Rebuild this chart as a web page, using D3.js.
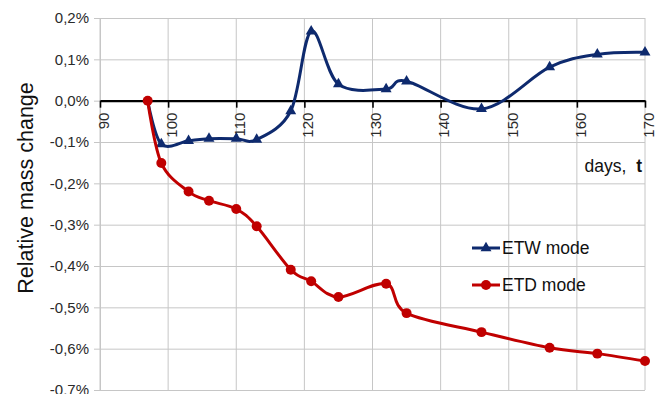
<!DOCTYPE html>
<html>
<head>
<meta charset="utf-8">
<script src="https://cdn.jsdelivr.net/npm/d3@7"></script>
<style>
  html, body { margin: 0; padding: 0; background: #fff; }
  svg { display: block; font-family: "Liberation Sans", Arial, sans-serif; }
</style>
</head>
<body>
<svg id="chart" width="661" height="394"></svg>
<script>
// Measurement days and relative mass change (%) for both modes
const etwDays   = [97, 99, 103, 106, 110, 113, 118, 121, 125, 132, 135, 146, 156, 163, 170];
const etwValues = [0, -0.105, -0.097, -0.092, -0.092, -0.094, -0.025, 0.168, 0.04, 0.028, 0.047, -0.02, 0.081, 0.112, 0.117];

const etdDays   = [97, 99, 103, 106, 110, 113, 118, 121, 125, 132, 135, 146, 156, 163, 170];
const etdValues = [0, -0.151, -0.22, -0.242, -0.262, -0.304, -0.409, -0.437, -0.475, -0.443, -0.514, -0.56, -0.598, -0.612, -0.63];

const xTicks = [90, 100, 110, 120, 130, 140, 150, 160, 170];
const yTicks = [0.2, 0.1, 0, -0.1, -0.2, -0.3, -0.4, -0.5, -0.6, -0.7];

const seriesNames = ["ETW mode", "ETD mode"];

const svg = d3.select("#chart");
const plotLeft = 100, plotRight = 645, plotTop = 18, plotBottom = 390;

const x = d3.scaleLinear().domain([90, 170]).range([plotLeft, plotRight]);
const y = d3.scaleLinear().domain([-0.7, 0.2]).range([plotBottom, plotTop]);

const gridColor = "#c6c6c6";
const blue = "#0e2a6e";
const red = "#c00000";

// Vertical gridlines
svg.append("g").selectAll("line").data(xTicks).join("line")
  .attr("x1", d => x(d)).attr("x2", d => x(d))
  .attr("y1", plotTop).attr("y2", plotBottom)
  .attr("stroke", gridColor).attr("stroke-width", 1);

// Horizontal gridlines via y axis
const yAxis = d3.axisLeft(y).tickValues(yTicks)
  .tickSize(-(plotRight - plotLeft)).tickSizeOuter(0).tickPadding(11)
  .tickFormat(d => d3.format(".1f")(d).replace(".", ",").replace("\u2212", "-") + "%");
const gy = svg.append("g").attr("transform", `translate(${plotLeft},0)`).call(yAxis);
gy.select(".domain").attr("stroke", gridColor);
gy.selectAll(".tick line").attr("stroke", gridColor).attr("x1", -6);
gy.selectAll(".tick text")
  .attr("font-size", 15).attr("fill", "#2a2a2a")
  .attr("font-family", "Liberation Sans, Arial, sans-serif");

// Zero axis with rotated day labels
const xAxis = d3.axisBottom(x).tickValues(xTicks).tickSize(7).tickSizeOuter(0).tickFormat(d3.format("d"));
const gx = svg.append("g").attr("transform", `translate(0,${y(0)})`).call(xAxis);
gx.select(".domain").attr("stroke", "#000").attr("stroke-width", 2.2);
gx.selectAll(".tick line").attr("stroke", "#000").attr("stroke-width", 1.6);
gx.selectAll(".tick text")
  .attr("font-size", 15).attr("fill", "#2a2a2a")
  .attr("font-family", "Liberation Sans, Arial, sans-serif")
  .attr("text-anchor", "end")
  .attr("transform", "translate(3,12) rotate(-90)")
  .attr("x", 0).attr("y", 0).attr("dy", "0.35em");

// Axis titles
svg.append("text")
  .attr("transform", `translate(33,${(plotTop + plotBottom) / 2 - 16}) rotate(-90)`)
  .attr("text-anchor", "middle")
  .attr("font-size", 21.5).attr("fill", "#111")
  .text("Relative mass change");

const dt = svg.append("text")
  .attr("x", 642).attr("y", 172)
  .attr("text-anchor", "end")
  .attr("font-size", 17.5).attr("fill", "#111");
dt.append("tspan").text("days,\u00a0 ");
dt.append("tspan").attr("font-weight", "bold").text("t");

// Series lines
const etw = etwDays.map((d, i) => [d, etwValues[i]]);
const etd = etdDays.map((d, i) => [d, etdValues[i]]);

const line = d3.line().x(d => x(d[0])).y(d => y(d[1])).curve(d3.curveCardinal.tension(0));

const tri = d3.symbol().type(d3.symbolTriangle).size(52);
const dot = d3.symbol().type(d3.symbolCircle).size(78);

svg.append("path").datum(etw).attr("d", line)
  .attr("fill", "none").attr("stroke", blue).attr("stroke-width", 3);
svg.append("g").selectAll("path").data(etw.slice(1)).join("path")
  .attr("d", tri)
  .attr("transform", d => `translate(${x(d[0])},${y(d[1])})`)
  .attr("fill", blue);

svg.append("path").datum(etd).attr("d", line)
  .attr("fill", "none").attr("stroke", red).attr("stroke-width", 3);
svg.append("g").selectAll("path").data(etd).join("path")
  .attr("d", dot)
  .attr("transform", d => `translate(${x(d[0])},${y(d[1])})`)
  .attr("fill", red);

// Legend
const legend = svg.append("g");
const legendItems = [
  { name: seriesNames[0], color: blue, sym: tri, y: 248 },
  { name: seriesNames[1], color: red, sym: dot, y: 285 }
];
legendItems.forEach(it => {
  legend.append("line")
    .attr("x1", 472).attr("x2", 500).attr("y1", it.y).attr("y2", it.y)
    .attr("stroke", it.color).attr("stroke-width", 3);
  legend.append("path").attr("d", it.sym)
    .attr("transform", `translate(486,${it.y})`).attr("fill", it.color);
  legend.append("text")
    .attr("x", 502).attr("y", it.y).attr("dy", "0.36em")
    .attr("font-size", 17.5).attr("fill", "#111")
    .text(it.name);
});
</script>
</body>
</html>
